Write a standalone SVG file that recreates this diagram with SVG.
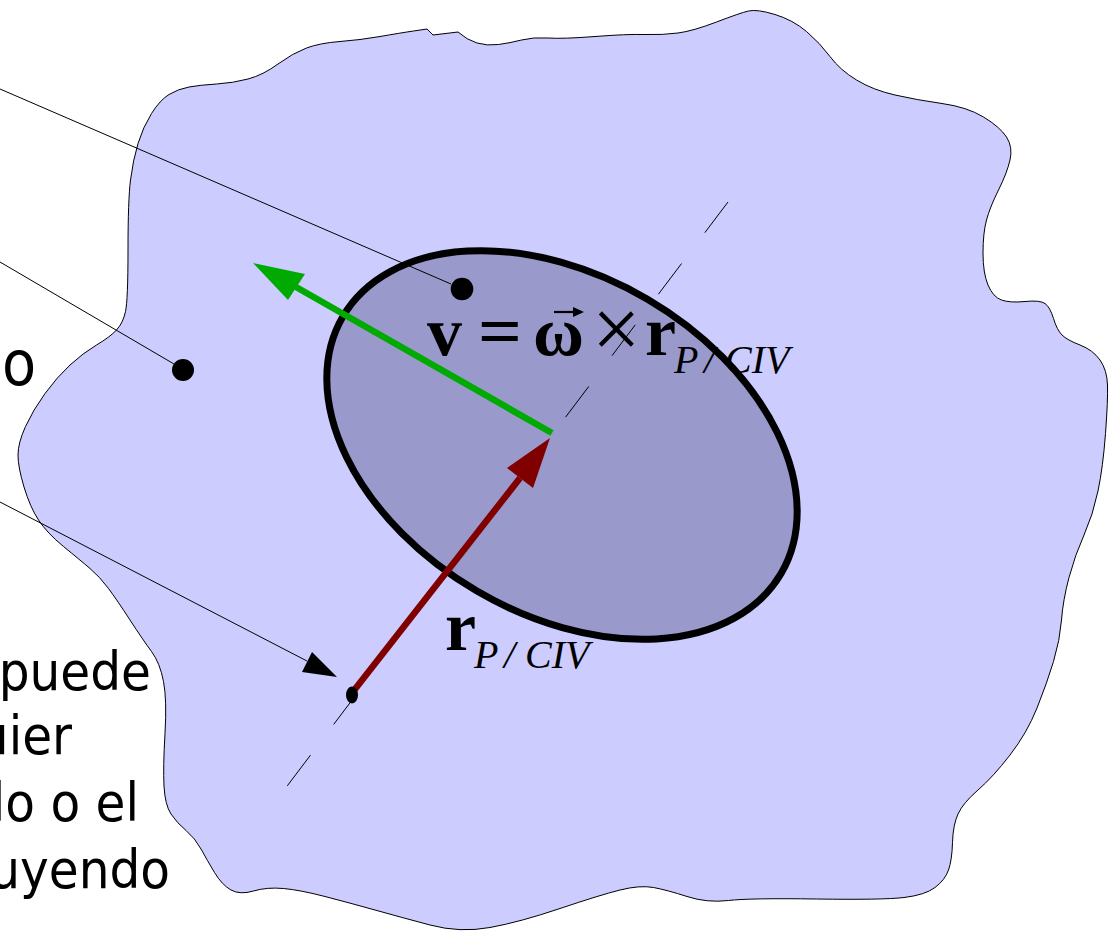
<svg xmlns="http://www.w3.org/2000/svg" width="1109" height="939" viewBox="0 0 1109 939">
<style>
.lbl{font-family:"DejaVu Sans Condensed","DejaVu Sans",sans-serif;font-size:54px;fill:#000}
.mb{font-family:"Liberation Serif","Times New Roman",serif;font-weight:bold;font-size:70px;fill:#000}
.mi{font-family:"Liberation Serif","Times New Roman",serif;font-style:italic;font-size:40px;fill:#000}
.lead{stroke:#000;stroke-width:1;fill:none}
.dash{stroke:#000;stroke-width:1;fill:none}
.dot{fill:#000}
</style>
<rect width="1109" height="939" fill="#fff"/>
<g id="body">
<path d="M125.5,311.5 Q128,300 128,250 Q128,200 130.5,180 Q133,160 138,143.5 Q143,127 151.5,113.5 Q160,100 169,94.5 Q178,89 189,87 Q200,85 216.5,84 Q233,83 248,79 Q263,75 278,64 Q293,53 306.5,48 Q320,43 340,41.5 Q360,40 380,36.5 Q400,33 413.5,31 L427,29 L433,35 L458,32 Q467,40 477,43 Q487,46 498.5,44.5 Q510,43 521.5,40 Q533,37 548,38 Q563,39 595,36.5 Q627,34 645,34.5 Q663,35 678,33 Q693,31 716.5,22 Q740,13 748.5,11 Q757,9 775,14.5 Q793,20 806.5,31.5 Q820,43 830,56.5 Q840,70 856.5,80 Q873,90 895,95 Q917,100 942,103.5 Q967,107 983.5,117 Q1000,127 1006.5,137 Q1013,147 1010,160 Q1007,173 998.5,190 Q990,207 986.5,220 Q983,233 983,253 Q983,273 988,285 Q993,297 1001.5,300 Q1010,303 1025,301.5 Q1040,300 1045,303.5 Q1050,307 1053.5,318.5 Q1057,330 1062,335 Q1067,340 1080,345 Q1093,350 1100,360 Q1107,370 1107.5,385 Q1108,400 1105.5,433.5 Q1103,467 1098,491 Q1093,515 1084,535 Q1075,555 1069,577.5 Q1063,600 1061.5,620 Q1060,640 1053.5,661.5 Q1047,683 1037,708 Q1027,733 1010,755 Q993,777 978,790 Q963,803 958,814 Q953,825 952.5,842.5 Q952,860 948.5,870 Q945,880 935,887.5 Q925,895 904,897.5 Q883,900 816.5,899 Q750,898 728.5,900.5 Q707,903 687,896.5 Q667,890 653.5,887.5 Q640,885 620,890 Q600,895 560,908.5 Q520,922 490,927.5 Q460,933 430,925 Q400,917 375,910 Q350,903 325,896.5 Q300,890 283.5,888.5 Q267,887 253.5,891 Q240,895 231,890 Q222,885 214.5,872.5 Q207,860 201,849 Q195,838 186,830.5 Q177,823 171,814 Q165,805 164,786 Q163,767 165,733.5 Q167,700 163.5,681.5 Q160,663 151.5,651.5 Q143,640 130,620 Q117,600 108.5,588.5 Q100,577 90,568.5 Q80,560 63.5,546.5 Q47,533 38.5,520 Q30,507 24,487 Q18,467 18,455 Q18,443 25.5,426.5 Q33,410 45,393.5 Q57,377 70,365 Q83,353 96.5,345 Q110,337 116.5,330 Q123,323 125.5,311.5 Z" fill="#CCCCFF" stroke="#000" stroke-width="1"/>
</g>
<g id="disk">
<ellipse cx="562" cy="445" rx="254" ry="169" transform="rotate(30.4 562 445)" fill="#9999CC" stroke="#000" stroke-width="7"/>
</g>
<g id="connectors">
<line class="lead" x1="0" y1="89" x2="451" y2="284"/>
<line class="lead" x1="0" y1="262" x2="174" y2="364"/>
<line class="lead" x1="0" y1="502" x2="307" y2="661"/>
<polygon points="337,677 312,652 302,672" fill="#000"/>
<path class="dash" d="M728,202 L704.8,232.7 M681.6,263.5 L658.4,294.2 M635.2,324.9 L612,355.7 M588.8,386.4 L565.6,417.1 M356.9,693.7 L333.7,724.4 M310.5,755.1 L287.3,785.8"/>
<line x1="552" y1="433" x2="296" y2="287" stroke="#00AA00" stroke-width="6.5"/>
<polygon points="253,263 305,274 288,300" fill="#00AA00"/>
<line x1="352" y1="693" x2="520" y2="478" stroke="#800000" stroke-width="6.5"/>
<polygon points="550,438 507,468 533,488" fill="#800000"/>
</g>
<g id="points">
<circle class="dot" cx="462" cy="289" r="11.3"/>
<circle class="dot" cx="183" cy="370" r="11"/>
<ellipse class="dot" cx="352" cy="695" rx="6" ry="8.5"/>
</g>
<g id="formula-v">
<text class="mb" x="427" y="355">v</text>
<text class="mb" x="478" y="355" textLength="44" lengthAdjust="spacingAndGlyphs">=</text>
<text class="mb" x="533" y="355" textLength="51" lengthAdjust="spacingAndGlyphs">ω</text>
<line x1="554" y1="312" x2="576" y2="312" stroke="#000" stroke-width="2.2"/>
<polygon points="584,312 573,307 573,317" fill="#000"/>
<text class="mb" x="592" y="358" style="font-size:86px;font-weight:normal">×</text>
<text class="mb" x="645" y="355">r</text>
<text class="mi" x="674" y="373">P</text>
<text class="mi" x="704" y="373">/</text>
<text class="mi" x="725" y="373">CIV</text>
</g>
<g id="label-r">
<text class="mb" x="445" y="650">r</text>
<text class="mi" x="474" y="668">P</text>
<text class="mi" x="504" y="668">/</text>
<text class="mi" x="525" y="668">CIV</text>
</g>
<g id="side-text">
<text class="lbl" x="36" y="385" text-anchor="end" style="font-size:62px">o</text>
<text class="lbl" x="151" y="690" text-anchor="end">puede</text>
<text class="lbl" x="72" y="754" text-anchor="end">uier</text>
<text class="lbl" x="139" y="821" text-anchor="end">lo o el</text>
<text class="lbl" x="170" y="888" text-anchor="end">uyendo</text>
</g>
</svg>
